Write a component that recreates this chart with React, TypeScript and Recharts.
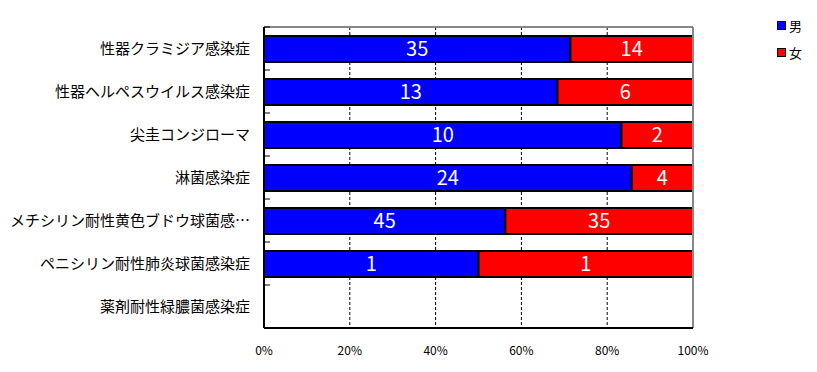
import { BarChart, Bar, XAxis, YAxis, CartesianGrid, LabelList, ReferenceLine } from "recharts";

const categories = [
  "性器クラミジア感染症",
  "性器ヘルペスウイルス感染症",
  "尖圭コンジローマ",
  "淋菌感染症",
  "メチシリン耐性黄色ブドウ球菌感染症",
  "ペニシリン耐性肺炎球菌感染症",
  "薬剤耐性緑膿菌感染症",
];
const male = [35, 13, 10, 24, 45, 1, 0];
const female = [14, 6, 2, 4, 35, 1, 0];
const xTicks = [0, 0.2, 0.4, 0.6, 0.8, 1];

const data = categories.map((name, i) => ({ name, male: male[i], female: female[i] }));

const font = "'Noto Sans CJK JP', sans-serif";

const CategoryTick = (props: any) => {
  const { x, y, payload } = props;
  const label = payload.value.length > 15 ? payload.value.slice(0, 15) + "…" : payload.value;
  const half = 21.5;
  return (
    <g>
      <text x={x - 6} y={y} dy={5} textAnchor="end" fontSize={15} fill="#000" fontFamily={font}>
        {label}
      </text>
      {/* small tick at the band edge */}
      <line x1={x + 8} x2={x + 14} y1={y - half} y2={y - half} stroke="#000" />
    </g>
  );
};

const Legend = () => (
  <div style={{ position: "absolute", left: 769, top: 4, fontFamily: font, fontSize: 13 }}>
    {[
      { label: "男", color: "#0000ff" },
      { label: "女", color: "#ff0000" },
    ].map((item) => (
      <div key={item.label} style={{ display: "flex", alignItems: "center", height: 27 }}>
        <span
          style={{
            width: 7,
            height: 7,
            background: item.color,
            border: "1.5px solid #000",
            marginRight: 3,
            display: "inline-block",
          }}
        />
        {item.label}
      </div>
    ))}
  </div>
);

export default function App() {
  return (
    <div style={{ position: "relative", width: 800, height: 356 }}>
      <BarChart
        width={800}
        height={356}
        data={data}
        layout="vertical"
        stackOffset="expand"
        margin={{ top: 19, right: 115, left: 0, bottom: 6 }}
      >
        <CartesianGrid horizontal={false} vertical={true} stroke="#000" strokeDasharray="3 2" />
        <CartesianGrid vertical={false} horizontalPoints={[19]} stroke="#888" strokeWidth={2} />
        <XAxis
          type="number"
          domain={[0, 1]}
          ticks={xTicks}
          tickFormatter={(v) => `${Math.round(v * 100)}%`}
          tickLine={false}
          axisLine={{ stroke: "#000", strokeWidth: 2 }}
          tick={{ fontSize: 12, fill: "#000", fontFamily: font }}
          tickMargin={12}
          height={30}
          interval={0}
        />
        <YAxis
          type="category"
          dataKey="name"
          width={256}
          tickLine={false}
          axisLine={{ stroke: "#000", strokeWidth: 2 }}
          tick={<CategoryTick />}
          interval={0}
        />
        <ReferenceLine x={1} stroke="#888" strokeWidth={2} />
        <Bar dataKey="male" stackId="a" fill="#0000ff" stroke="#000" strokeWidth={2} barSize={26} isAnimationActive={false}>
          <LabelList dataKey="male" position="center" fill="#fff" fontSize={20} fontFamily={font} />
        </Bar>
        <Bar dataKey="female" stackId="a" fill="#ff0000" stroke="#000" strokeWidth={2} barSize={26} isAnimationActive={false}>
          <LabelList dataKey="female" position="center" fill="#fff" fontSize={20} fontFamily={font} />
        </Bar>
      </BarChart>
      <Legend />
    </div>
  );
}
